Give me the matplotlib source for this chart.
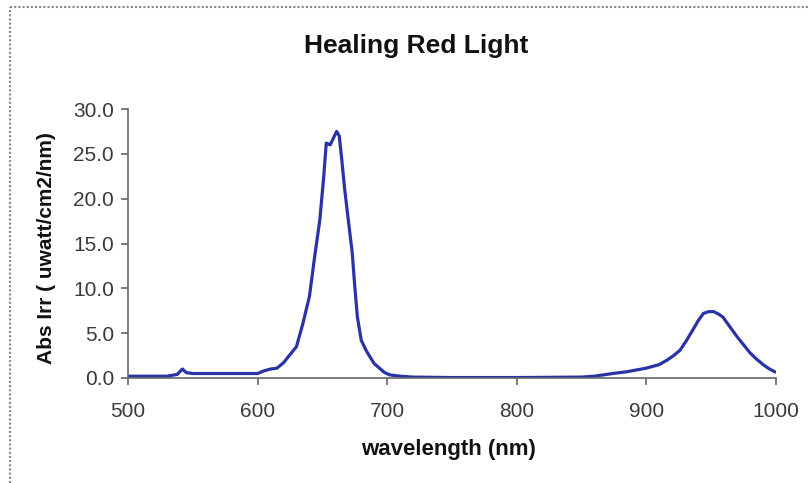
import matplotlib
matplotlib.use("Agg")
import matplotlib.pyplot as plt
from matplotlib.lines import Line2D

plt.rcParams['font.family'] = ['Liberation Sans', 'DejaVu Sans']

# spectrum
wavelength = [500, 510, 520, 530, 538, 542, 545, 550, 560, 570, 580, 590,
              600, 605, 610, 615, 620, 625, 630, 635, 640, 644, 648, 651,
              653, 656, 658, 661, 663, 665, 667, 670, 673, 675, 677, 680,
              684, 687, 690, 694, 698, 702, 710, 720, 750, 800, 850, 860,
              874, 885, 900, 910, 916, 921, 926, 931, 936, 940, 944, 948,
              952, 956, 959, 964, 970, 975, 980, 985, 990, 995, 999]
irradiance = [0.2, 0.2, 0.2, 0.2, 0.4, 1.0, 0.6, 0.5, 0.5, 0.5, 0.5, 0.5,
              0.5, 0.8, 1.0, 1.1, 1.7, 2.6, 3.5, 6.1, 9.1, 13.5, 17.6, 22.4,
              26.2, 26.0, 26.6, 27.5, 27.0, 24.3, 21.3, 17.6, 14.0, 10.2, 6.8, 4.2,
              3.0, 2.3, 1.6, 1.1, 0.6, 0.35, 0.2, 0.1, 0.05, 0.05, 0.1, 0.2,
              0.5, 0.7, 1.1, 1.5, 2.0, 2.5, 3.1, 4.2, 5.4, 6.4, 7.2, 7.4,
              7.4, 7.1, 6.8, 5.8, 4.6, 3.7, 2.8, 2.1, 1.5, 1.0, 0.7]
xticks = [500, 600, 700, 800, 900, 1000]
yticks = [0, 5, 10, 15, 20, 25, 30]

fig = plt.figure(figsize=(8.09, 4.83), dpi=100)
ax = fig.add_axes([0.1582, 0.2174, 0.801, 0.5569])

ax.plot(wavelength, irradiance, color='#2a33a6', lw=2.3)

ax.set_xlim(500, 1000)
ax.set_ylim(0, 30)
ax.set_xticks(xticks)
ax.set_yticks(yticks)
ax.set_yticklabels(['%.1f' % t for t in yticks])
for s in ['top', 'right']:
    ax.spines[s].set_visible(False)
for s in ['left', 'bottom']:
    ax.spines[s].set_color('#666666')
    ax.spines[s].set_linewidth(1.2)
ax.tick_params(colors='#666666', labelcolor='#3a3a3a', labelsize=15,
               length=5, width=1.2)
ax.tick_params(axis='x', pad=12)
ax.tick_params(axis='y', pad=5)

fig.text(0.514, 0.905, 'Healing Red Light', ha='center', va='center',
         fontsize=19, fontweight='bold', color='#111111')
fig.text(0.555, 0.07, 'wavelength (nm)', ha='center', va='center',
         fontsize=16, fontweight='bold', color='#111111')
fig.text(0.0575, 0.4865, 'Abs Irr ( uwatt/cm2/nm)', ha='center', va='center',
         rotation=90, fontsize=15, fontweight='bold', color='#111111')

# chart area border (only top and left visible in the crop)
bx = 10 / 809
by = 1 - 7 / 483
fig.add_artist(Line2D([bx, bx], [0, by], transform=fig.transFigure,
                      color='#888888', lw=1.5, ls=(0, (1, 1))))
fig.add_artist(Line2D([bx, 1], [by, by], transform=fig.transFigure,
                      color='#888888', lw=1.5, ls=(0, (1, 1))))

fig.savefig('out.png', dpi=100)
